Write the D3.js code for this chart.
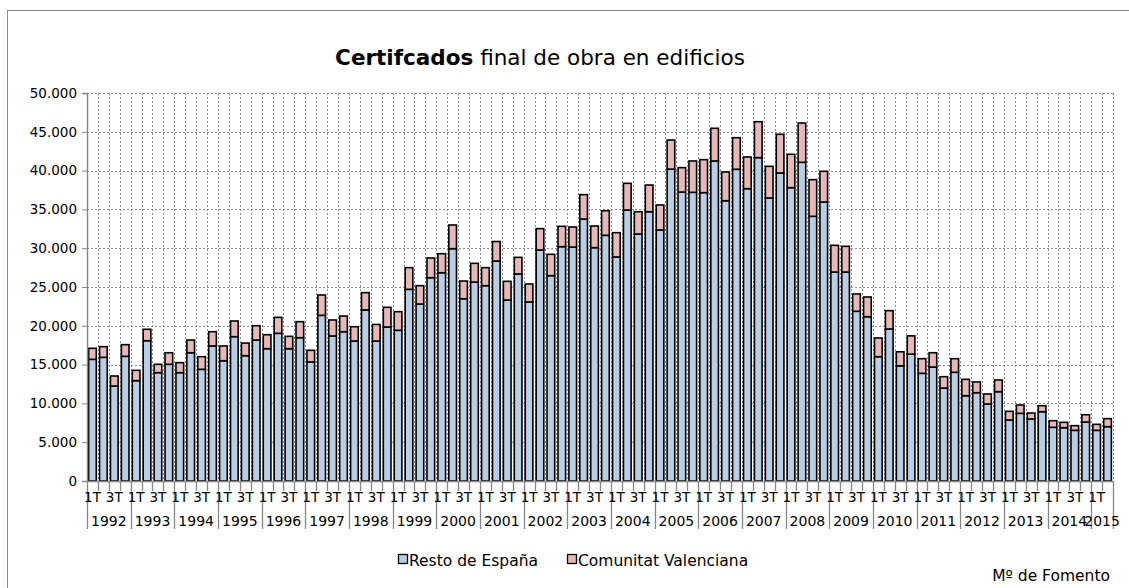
<!DOCTYPE html>
<html>
<head>
<meta charset="utf-8">
<script src="https://cdn.jsdelivr.net/npm/d3@7"></script>
<style>
  body { margin: 0; background: #fff; }
  svg { font-family: "DejaVu Sans", sans-serif; }
</style>
</head>
<body>
<div id="chart"></div>
<script>
// quarterly data, 1992 1T .. 2015 2T
const years = d3.range(1992, 2016);
const quarters = ["1T", "2T", "3T", "4T"];

const resto = [
  15680, 15940, 12240, 16070, 12930, 18080, 13960, 15040, 13960, 16530, 14390, 17400,
  15500, 18600, 16150, 18170, 17050, 19030, 17050, 18470, 15340, 21350, 18690, 19240,
  18040, 22040, 18040, 19850, 19420, 24700, 22810, 26200, 26840, 29940, 23490, 25640,
  25170, 28350, 23320, 26680, 23070, 29770, 26460, 30200, 30150, 33760, 30070, 31660,
  28870, 34920, 31830, 34700, 32350, 40190, 37240, 37200, 37160, 41240, 36120, 40170,
  37670, 41670, 36470, 39690, 37800, 41070, 34110, 35950, 26930, 26930, 21870, 21170,
  16020, 19590, 14840, 16350, 13880, 14690, 11980, 14010, 10990, 11380, 9920, 11510,
  7860, 8720, 7990, 8930, 6920, 6870, 6530, 7600, 6530, 7000
];
const comunitat = [
  1420, 1370, 1290, 1500, 1330, 1470, 1080, 1490, 1290, 1640, 1630, 1840,
  1900, 2020, 1630, 1840, 1800, 2060, 1590, 2060, 1500, 2620, 2060, 2020,
  1840, 2230, 2130, 2530, 2400, 2790, 2360, 2540, 2450, 3050, 2280, 2410,
  2320, 2510, 2410, 2140, 2320, 2750, 2750, 2620, 2580, 3140, 2790, 3170,
  3130, 3440, 2870, 3440, 3220, 3750, 3140, 4040, 4250, 4210, 3700, 4070,
  4080, 4630, 4080, 4990, 4300, 5060, 4720, 3960, 3440, 3310, 2230, 2540,
  2410, 2360, 1810, 2350, 1880, 1840, 1460, 1750, 2110, 1380, 1290, 1510,
  1120, 1070, 770, 770, 850, 690, 600, 940, 770, 1030
];
const seriesNames = ["Resto de España", "Comunitat Valenciana"];
const colors = ["#b9cde5", "#e6b9b8"];

const data = resto.map((r, i) => ({
  key: i,
  year: years[Math.floor(i / 4)],
  q: quarters[i % 4],
  resto: r,
  comunitat: comunitat[i]
}));

const W = 1129, H = 588;
const margin = { top: 93, right: 16, bottom: 107, left: 87 };
const width = W - margin.left - margin.right,
      height = H - margin.top - margin.bottom;

const svg = d3.select("#chart").append("svg")
  .attr("width", W).attr("height", H);

// chart border
svg.append("rect")
  .attr("x", 7.5).attr("y", 10.5)
  .attr("width", W).attr("height", H)
  .attr("fill", "none").attr("stroke", "#898989");

const g = svg.append("g").attr("transform", `translate(${margin.left},${margin.top})`);

const x = d3.scaleBand().domain(data.map(d => d.key)).range([0, width]).paddingInner(0.3).paddingOuter(0.15);
const y = d3.scaleLinear().domain([0, 50000]).range([height, 0]);
const step = x.step();
const x0 = x(0) - x.paddingOuter() * step; // left edge of first category
const cat = i => x0 + i * step;

// grid
g.append("g").selectAll("line").data(y.ticks(10).filter(v => v > 0)).join("line")
  .attr("x1", 0).attr("x2", width)
  .attr("y1", d => Math.round(y(d)) + 0.5).attr("y2", d => Math.round(y(d)) + 0.5)
  .attr("stroke", "#8c8c8c").attr("stroke-dasharray", "2,2");
g.append("g").selectAll("line").data(d3.range(1, data.length + 1)).join("line")
  .attr("x1", d => Math.round(cat(d)) + 0.5).attr("x2", d => Math.round(cat(d)) + 0.5)
  .attr("y1", 0).attr("y2", height)
  .attr("stroke", "#8c8c8c").attr("stroke-dasharray", "2,2");

// stacked bars
const stacked = d3.stack().keys(["resto", "comunitat"])(data);
g.append("g").selectAll("g").data(stacked).join("g")
  .attr("fill", (d, i) => colors[i])
  .selectAll("rect").data(d => d).join("rect")
  .attr("x", d => x(d.data.key))
  .attr("width", x.bandwidth())
  .attr("y", d => y(d[1]))
  .attr("height", d => y(d[0]) - y(d[1]))
  .attr("stroke", "#000").attr("stroke-width", 1.6);

// y axis
const yAxis = g.append("g")
  .call(d3.axisLeft(y).ticks(10).tickSize(5).tickFormat(d => d3.format(",")(d).replace(/,/g, ".")));
yAxis.select(".domain").attr("stroke", "#868686").attr("stroke-width", 1.5);
yAxis.selectAll(".tick line").attr("stroke", "#868686");
yAxis.selectAll(".tick text").attr("font-size", 13.5).attr("fill", "#000").attr("x", -10)
  .attr("font-family", "DejaVu Sans");

// x axis: quarter ticks, labels 1T/3T, year groups
const xa = g.append("g").attr("transform", `translate(0,${height})`);
xa.append("line").attr("x1", 0).attr("x2", width).attr("y1", 0.5).attr("y2", 0.5)
  .attr("stroke", "#868686").attr("stroke-width", 1.5);
xa.selectAll(".qt").data(d3.range(0, data.length + 1)).join("line")
  .attr("class", "qt")
  .attr("x1", d => Math.round(cat(d)) + 0.5).attr("x2", d => Math.round(cat(d)) + 0.5)
  .attr("y1", 0)
  .attr("y2", d => (d % 4 === 0 || d === data.length) ? 48 : 10)
  .attr("stroke", "#868686").attr("stroke-width", 1.3);
xa.selectAll(".ql").data(data.filter(d => d.q === "1T" || d.q === "3T")).join("text")
  .attr("class", "ql")
  .attr("x", d => x(d.key) + x.bandwidth() / 2)
  .attr("y", 21)
  .attr("text-anchor", "middle")
  .attr("font-size", 13.5)
  .text(d => d.q);
xa.selectAll(".yl").data(years).join("text")
  .attr("class", "yl")
  .attr("x", (d, i) => {
    const n = data.filter(e => e.year === d).length;
    return cat(i * 4) + n * step / 2;
  })
  .attr("y", 45)
  .attr("text-anchor", "middle")
  .attr("font-size", 14)
  .text(d => d);

// title
svg.append("text")
  .attr("x", 540).attr("y", 65)
  .attr("text-anchor", "middle")
  .attr("font-size", 21.5)
  .call(t => {
    t.append("tspan").attr("font-weight", "bold").text("Certifcados");
    t.append("tspan").text(" final de obra en edificios");
  });

// legend
const legend = svg.append("g").attr("transform", "translate(398,560)");
const li = legend.selectAll("g").data(seriesNames).join("g")
  .attr("transform", (d, i) => `translate(${i * 169},0)`);
li.append("rect").attr("x", 0.5).attr("y", -5.5).attr("width", 9).attr("height", 9)
  .attr("fill", (d, i) => colors[i]).attr("stroke", "#000").attr("stroke-width", 1.3);
li.append("text").attr("x", 11).attr("y", 5.5).attr("font-size", 15.5).text(d => d);

// source
svg.append("text")
  .attr("x", 1110).attr("y", 581)
  .attr("text-anchor", "end")
  .attr("font-size", 15.5)
  .text("Mº  de Fomento");
</script>
</body>
</html>
